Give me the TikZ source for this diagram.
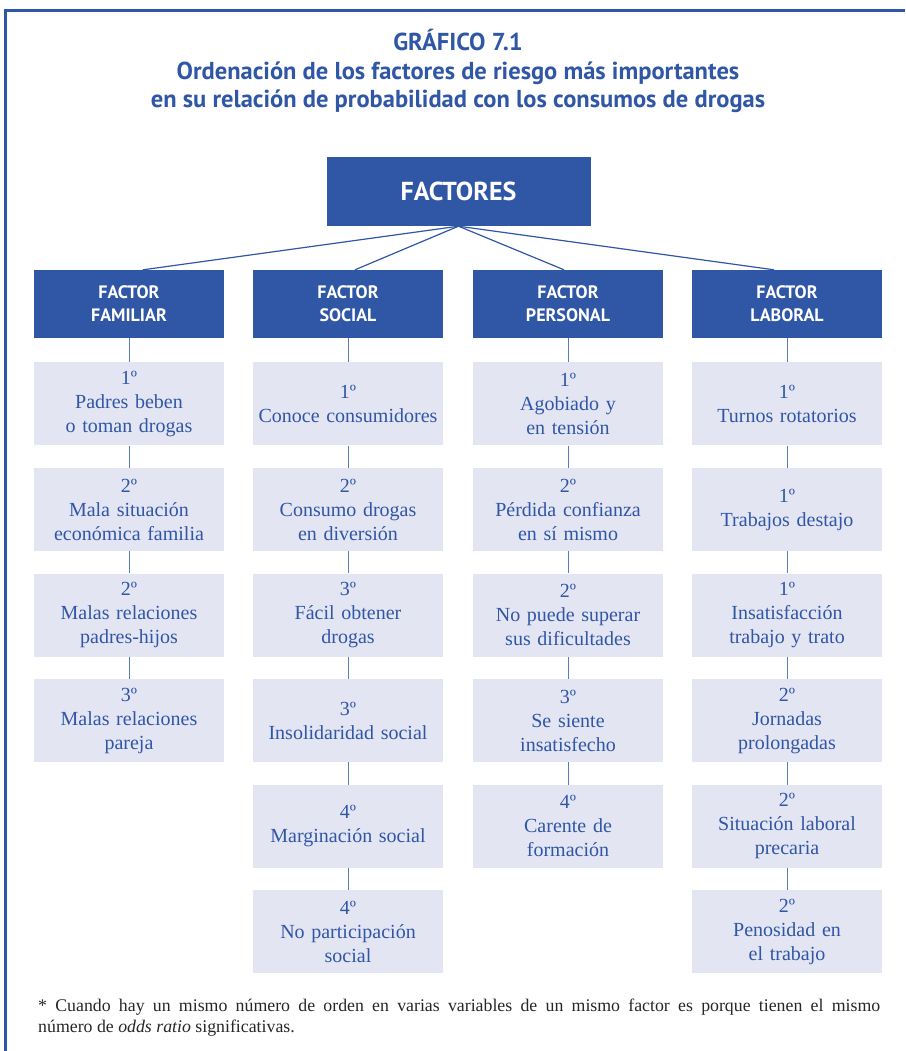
\documentclass[tikz,border=0pt]{standalone}
\usepackage{fontspec}
\setmainfont{Liberation Serif}
\newfontfamily\headfont{PT Sans}
\newfontfamily\itemfont{Liberation Serif}
\usetikzlibrary{positioning}
\definecolor{gblue}{HTML}{3056A6}
\definecolor{gpale}{HTML}{E3E5F2}
\definecolor{glink}{HTML}{5B7BBF}
\tikzset{
  org/root/.style={fill=gblue, text=white, inner sep=0pt, minimum width=264pt, minimum height=69pt, font=\headfont\bfseries\fontsize{26}{28}\selectfont},
  org/factor/.style={fill=gblue, text=white, inner sep=0pt, minimum width=190pt, minimum height=68pt, align=center, font=\headfont\bfseries\fontsize{18}{23}\selectfont},
  org/item/.style={fill=gpale, text=gblue, inner sep=0pt, minimum width=190pt, minimum height=83pt, text width=188pt, align=center, font=\itemfont\fontsize{20}{24}\selectfont},
  org/line/.style={draw=gblue, line width=1.2pt},
  org/link/.style={draw=glink, line width=1pt},
  org/title/.style={text=gblue, align=center, font=\headfont\bfseries\fontsize{24.5}{28.5}\selectfont},
  org/note/.style={text=black!85, text width=842pt, align=justify, inner sep=0pt, font=\itemfont\fontsize{17.8}{21}\selectfont}
}

\begin{document}
\begin{tikzpicture}[x=1pt, y=-1pt, node distance=22.2pt]
  \useasboundingbox (0,0) rectangle (905,1051);
  % marco
  \draw[gblue, line width=3pt] (5,1051) -- (5,11) -- (905,11);

  \node[org/title] (title) at (458,71) {GRÁFICO 7.1\\Ordenación de los factores de riesgo más importantes\\en su relación de probabilidad con los consumos de drogas};

  \node[org/root] (root) at (458.5,191.5) {FACTORES};

  \node[org/factor] (fam) at (129,304) {FACTOR\\FAMILIAR};
  \node[org/factor] (soc) at (348,304) {FACTOR\\SOCIAL};
  \node[org/factor] (per) at (568,304) {FACTOR\\PERSONAL};
  \node[org/factor] (lab) at (787,304) {FACTOR\\LABORAL};
  \draw[org/line] (root.south) -- ([xshift=14pt]fam.north);
  \draw[org/line] (root.south) -- ([xshift=7pt]soc.north);
  \draw[org/line] (root.south) -- ([xshift=-4pt]per.north);
  \draw[org/line] (root.south) -- ([xshift=-13pt]lab.north);

  % factor familiar
  \node[org/item, below=24pt of fam] (fam1) {1º\\Padres beben\\o toman drogas};
  \node[org/item, below=of fam1] (fam2) {2º\\Mala situación\\económica familia};
  \node[org/item, below=of fam2] (fam3) {2º\\Malas relaciones\\padres-hijos};
  \node[org/item, below=of fam3] (fam4) {3º\\Malas relaciones\\pareja};

  % factor social
  \node[org/item, below=24pt of soc] (soc1) {1º\\Conoce consumidores};
  \node[org/item, below=of soc1] (soc2) {2º\\Consumo drogas\\en diversión};
  \node[org/item, below=of soc2] (soc3) {3º\\Fácil obtener\\drogas};
  \node[org/item, below=of soc3] (soc4) {3º\\Insolidaridad social};
  \node[org/item, below=of soc4] (soc5) {4º\\Marginación social};
  \node[org/item, below=of soc5] (soc6) {4º\\No participación\\social};

  % factor personal
  \node[org/item, below=24pt of per] (per1) {1º\\Agobiado y\\en tensión};
  \node[org/item, below=of per1] (per2) {2º\\Pérdida confianza\\en sí mismo};
  \node[org/item, below=of per2] (per3) {2º\\No puede superar\\sus dificultades};
  \node[org/item, below=of per3] (per4) {3º\\Se siente\\insatisfecho};
  \node[org/item, below=of per4] (per5) {4º\\Carente de\\formación};

  % factor laboral
  \node[org/item, below=24pt of lab] (lab1) {1º\\Turnos rotatorios};
  \node[org/item, below=of lab1] (lab2) {1º\\Trabajos destajo};
  \node[org/item, below=of lab2] (lab3) {1º\\Insatisfacción\\trabajo y trato};
  \node[org/item, below=of lab3] (lab4) {2º\\Jornadas\\prolongadas};
  \node[org/item, below=of lab4] (lab5) {2º\\Situación laboral\\precaria};
  \node[org/item, below=of lab5] (lab6) {2º\\Penosidad en\\el trabajo};

  \foreach \a/\b in {fam/fam1,fam1/fam2,fam2/fam3,fam3/fam4,
                     soc/soc1,soc1/soc2,soc2/soc3,soc3/soc4,soc4/soc5,soc5/soc6,
                     per/per1,per1/per2,per2/per3,per3/per4,per4/per5,
                     lab/lab1,lab1/lab2,lab2/lab3,lab3/lab4,lab4/lab5,lab5/lab6}
    \draw[org/link] (\a.south) -- (\b.north);

  \node[org/note, anchor=north west] (note) at (38,999) {* Cuando hay un mismo número de orden en varias variables de un mismo factor es porque tienen el mismo\linebreak número de \textit{odds ratio} significativas.};
\end{tikzpicture}
\end{document}
